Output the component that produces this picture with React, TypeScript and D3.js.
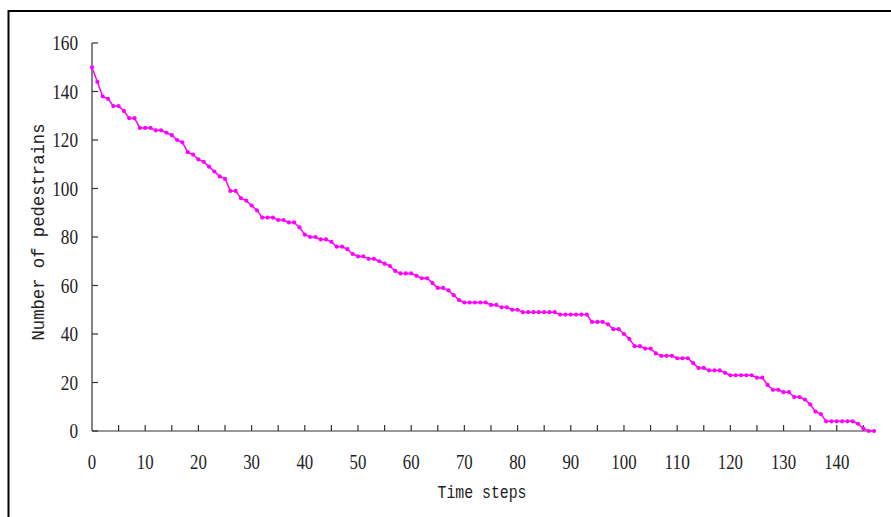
import React from 'react';
import { scaleLinear, line } from 'd3';

// number of pedestrians left at each time step (index = time step)
const pedestrians = [
    150, 144, 138, 137, 134, 134, 132, 129, 129, 125,
    125, 125, 124, 124, 123, 122, 120, 119, 115, 114,
    112, 111, 109, 107, 105, 104, 99, 99, 96, 95,
    93, 91, 88, 88, 88, 87, 87, 86, 86, 84,
    81, 80, 80, 79, 79, 78, 76, 76, 75, 73,
    72, 72, 71, 71, 70, 69, 68, 66, 65, 65,
    65, 64, 63, 63, 61, 59, 59, 58, 56, 54,
    53, 53, 53, 53, 53, 52, 52, 51, 51, 50,
    50, 49, 49, 49, 49, 49, 49, 49, 48, 48,
    48, 48, 48, 48, 45, 45, 45, 44, 42, 42,
    40, 38, 35, 35, 34, 34, 32, 31, 31, 31,
    30, 30, 30, 28, 26, 26, 25, 25, 25, 24,
    23, 23, 23, 23, 23, 22, 22, 19, 17, 17,
    16, 16, 14, 14, 13, 11, 8, 7, 4, 4,
    4, 4, 4, 4, 3, 1, 0, 0,
];

const yTicks = [0, 20, 40, 60, 80, 100, 120, 140, 160];
const xMinorTicks = [5, 15, 25, 35, 45, 55, 65, 75, 85, 95, 105, 115, 125, 135, 145];
const xLabels = [0, 10, 20, 30, 40, 50, 60, 70, 80, 90, 100, 110, 120, 130, 140];

const W = 891;
const H = 517;

const App = () => {
    const x = scaleLinear().domain([0, 147]).range([92, 874]);
    const y = scaleLinear().domain([0, 160]).range([431, 43]);

    const path = line<number>()
        .x((d, i) => x(i))
        .y((d) => y(d));

    const axisColor = '#333';
    const tickFont = '"Liberation Serif", serif';
    const titleFont = '"Liberation Mono", monospace';

    return (
        <svg width={W} height={H} style={{ position: 'fixed', left: 0, top: 0, background: '#fff' }}>
            {/* outer frame, right and bottom run off the picture */}
            <rect x={8.5} y={11} width={900} height={520} fill="none" stroke="#000" strokeWidth={2} />

            {/* y axis */}
            <line x1={x(0)} x2={x(0)} y1={y(160)} y2={y(0)} stroke={axisColor} strokeWidth={1.2} />
            {yTicks.map((t) => (
                <g key={'y' + t}>
                    <line x1={x(0)} x2={x(0) + 6} y1={y(t)} y2={y(t)} stroke={axisColor} strokeWidth={1.2} />
                    <text
                        x={78}
                        y={y(t)}
                        dy="0.35em"
                        textAnchor="end"
                        fontFamily={tickFont}
                        fontSize={20}
                        fill="#222"
                        textLength={String(t).length * 8.6}
                        lengthAdjust="spacingAndGlyphs"
                    >
                        {t}
                    </text>
                </g>
            ))}

            {/* x axis */}
            <line x1={x(0)} x2={x(147.2)} y1={y(0)} y2={y(0)} stroke={axisColor} strokeWidth={1.2} />
            {xMinorTicks.concat(xLabels.slice(1)).map((t) => (
                <line key={'xt' + t} x1={x(t)} x2={x(t)} y1={y(0)} y2={y(0) - 6} stroke={axisColor} strokeWidth={1.2} />
            ))}
            {xLabels.map((t) => (
                <text
                    key={'xl' + t}
                    x={x(t)}
                    y={462}
                    dy="0.35em"
                    textAnchor="middle"
                    fontFamily={tickFont}
                    fontSize={21}
                    fill="#222"
                    textLength={String(t).length * 8.4}
                    lengthAdjust="spacingAndGlyphs"
                >
                    {t}
                </text>
            ))}

            {/* axis titles */}
            <text
                x={482}
                y={492}
                dy="0.35em"
                textAnchor="middle"
                fontFamily={titleFont}
                fontSize={18}
                fill="#222"
                textLength={89}
                lengthAdjust="spacingAndGlyphs"
            >
                Time steps
            </text>
            <text
                transform="translate(37,232) rotate(-90)"
                dy="0.35em"
                textAnchor="middle"
                fontFamily={titleFont}
                fontSize={19}
                fill="#222"
                textLength={217}
                lengthAdjust="spacingAndGlyphs"
            >
                Number of pedestrains
            </text>

            {/* the series */}
            <path d={path(pedestrians) || ''} fill="none" stroke="#ff00ff" strokeWidth={1.5} />
            {pedestrians.map((d, i) => (
                <circle key={'p' + i} cx={x(i)} cy={y(d)} r={2.1} fill="#ff00ff" />
            ))}
        </svg>
    );
};

export default App;
